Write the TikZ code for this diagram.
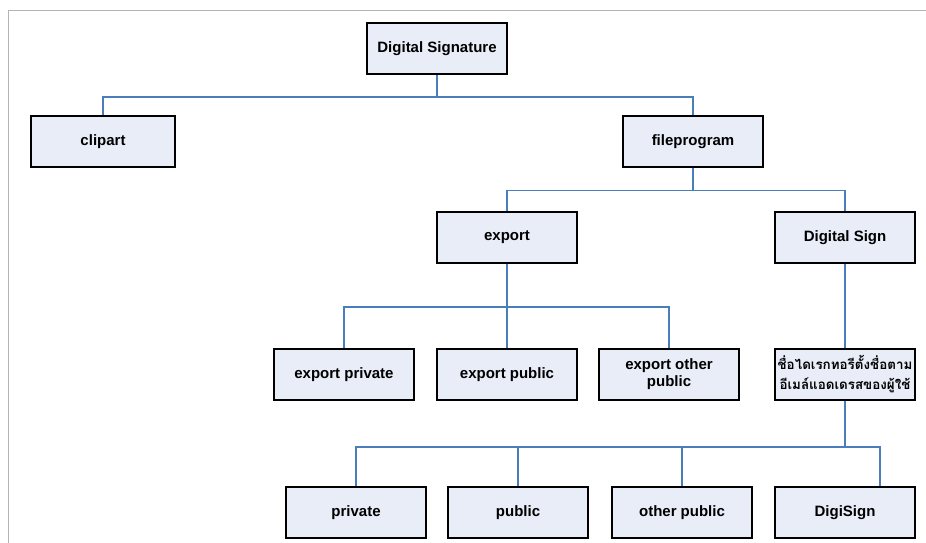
\documentclass[tikz,border=0pt]{standalone}
\usepackage{fontspec}
\setmainfont{Liberation Sans}
\newfontfamily\thaifont[Script=Thai]{Loma}
\usetikzlibrary{calc,backgrounds}
\definecolor{boxfill}{HTML}{E8EDF7}
\definecolor{linkblue}{HTML}{4A7EBB}
\definecolor{framegray}{HTML}{B4B4B4}
\begin{document}
\begin{tikzpicture}[x=1pt,y=-1pt,
  box/.style={draw=black,line width=1.9pt,fill=boxfill,minimum width=140pt,
    minimum height=51pt,inner sep=0pt,align=center,
    font=\fontsize{15}{17}\selectfont\bfseries},
  thaibox/.style={box,font=\thaifont\bfseries\fontsize{13.4}{20}\selectfont},
  conn/.style={draw=linkblue,line width=1.4pt}]
\useasboundingbox (0,0) rectangle (926,543);
% page frame
\draw[framegray,line width=1.5pt] (8.5,543) -- (8.5,10.5) -- (926,10.5);

% bus levels of the tree
\coordinate (b1) at (0,97);
\coordinate (b2) at (0,190.5);
\coordinate (b3) at (0,307);
\coordinate (b4) at (0,447);

\node[box] (ds)    at (437,48.5)  {Digital Signature};
\node[box,minimum width=144pt] (clip) at (103,141.5) {clipart};
\node[box] (fp)    at (693,141.5) {fileprogram};
\node[box] (exp)   at (507,237.5) {export};
\node[box] (dsign) at (845,237.5) {Digital Sign};
\node[box] (ep)    at (344,374.5) {export private};
\node[box] (epub)  at (507,374.5) {export public};
\node[box] (eop)   at (669,374.5) {export other\\public};
\node[thaibox] (dir) at (845,374.5)
  {ชื่อไดเรกทอรีตั้งชื่อตาม\\อีเมล์แอดเดรสของผู้ใช้};
\node[box] (priv)  at (356,512.5) {private};
\node[box] (pub)   at (518,512.5) {public};
\node[box] (opub)  at (682,512.5) {other public};
\node[box] (digi)  at (845,512.5) {DigiSign};

% connectors run behind the boxes
\begin{pgfonlayer}{background}
\draw[conn] (ds.south) -- (ds.south |- b1) -| (clip.north);
\draw[conn] (ds.south |- b1) -| (fp.north);
\draw[conn] (fp.south) -- (fp.south |- b2) -| (exp.north);
\draw[conn] (fp.south |- b2) -| (dsign.north);
\draw[conn] (exp.south) -- (exp.south |- b3) -| (ep.north);
\draw[conn] (exp.south |- b3) -- (epub.north);
\draw[conn] (exp.south |- b3) -| (eop.north);
\draw[conn] (dsign.south) -- (dir.north);
\draw[conn] (dir.south) -- (dir.south |- b4) -| (priv.north);
\draw[conn] (dir.south |- b4) -| (pub.north);
\draw[conn] (dir.south |- b4) -| (opub.north);
\draw[conn] (dir.south |- b4) -| ([xshift=35pt]digi.north);
\end{pgfonlayer}
\end{tikzpicture}
\end{document}
